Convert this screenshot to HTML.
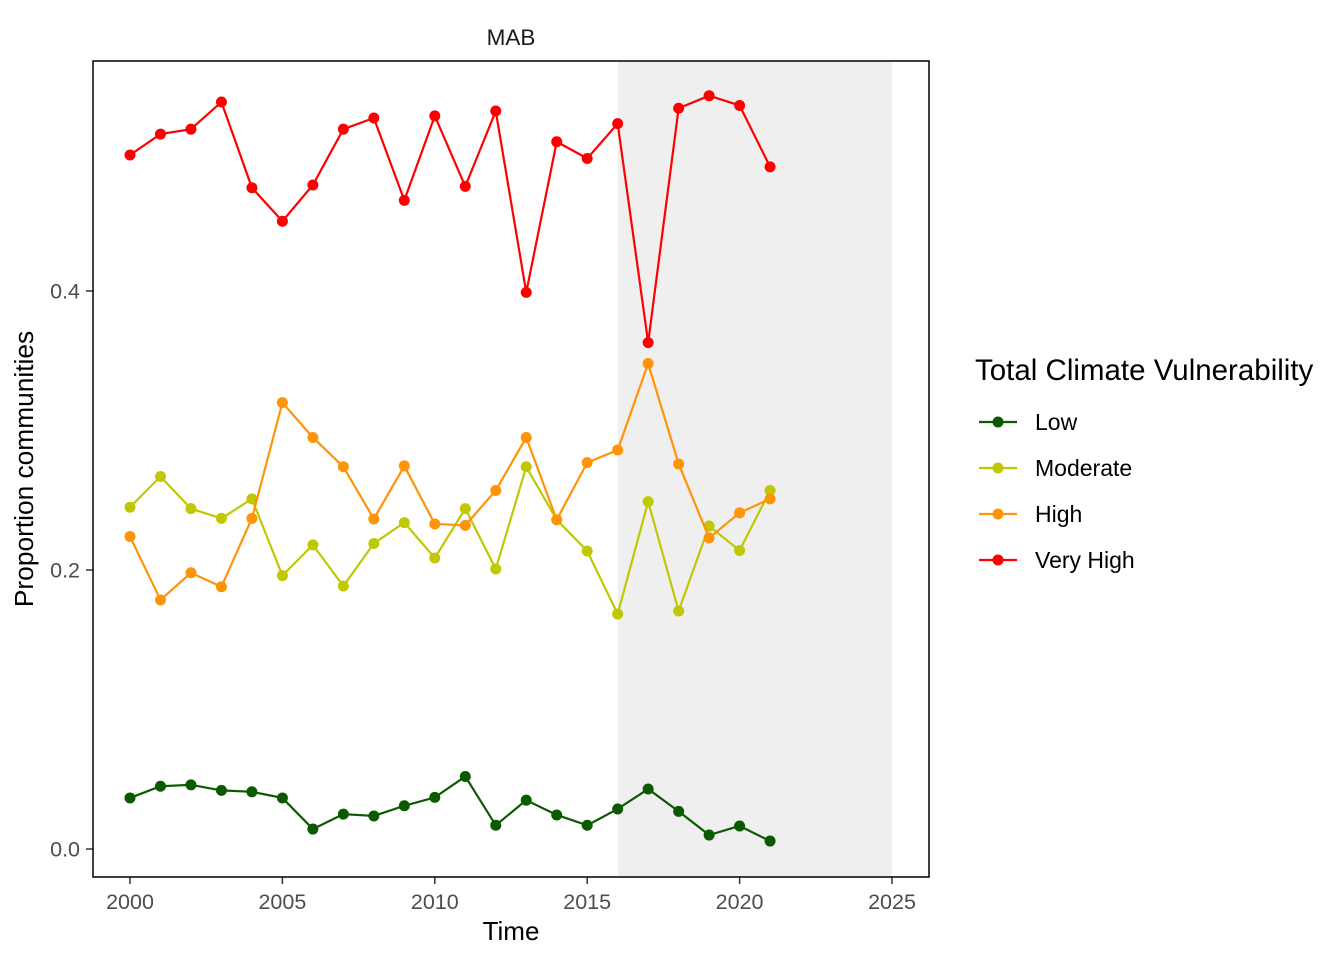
<!DOCTYPE html>
<html><head><meta charset="utf-8"><style>
body{margin:0;background:#fff;}
svg{display:block;font-family:"Liberation Sans",Arial,sans-serif;}
</style></head><body>
<svg id="chart" width="1344" height="960">
<text x="511" y="45" font-size="22.5" text-anchor="middle" fill="#1a1a1a">MAB</text>
<g id="plot"></g>
<rect x="93" y="61" width="836" height="816" fill="none" stroke="#000" stroke-width="1.5"/>
<text x="511" y="940" font-size="26" text-anchor="middle" fill="#000">Time</text>
<text transform="translate(33,469) rotate(-90)" font-size="26.3" text-anchor="middle" fill="#000">Proportion communities</text>
<text x="975" y="380" font-size="29.5" fill="#000">Total Climate Vulnerability</text>
<g id="legend"></g>
</svg>
<script>
const years=[2000,2001,2002,2003,2004,2005,2006,2007,2008,2009,2010,2011,2012,2013,2014,2015,2016,2017,2018,2019,2020,2021];
const seriesNames=["Low","Moderate","High","Very High"];
const seriesColors=["#0b5a00","#bfc800","#ff9408","#ff0000"];
const lowVals=[0.0366,0.045,0.046,0.042,0.041,0.0366,0.0143,0.025,0.0237,0.031,0.037,0.052,0.017,0.035,0.0244,0.017,0.0287,0.043,0.027,0.010,0.0165,0.0057];
const moderateVals=[0.245,0.267,0.244,0.237,0.251,0.196,0.218,0.1885,0.219,0.234,0.2086,0.244,0.2007,0.274,0.236,0.2136,0.1685,0.249,0.1706,0.2315,0.214,0.257];
const highVals=[0.224,0.1785,0.198,0.188,0.237,0.320,0.295,0.274,0.2366,0.2746,0.233,0.232,0.257,0.295,0.236,0.277,0.286,0.348,0.276,0.223,0.241,0.251];
const veryHighVals=[0.4975,0.5125,0.516,0.5355,0.474,0.450,0.476,0.516,0.524,0.465,0.5255,0.475,0.529,0.399,0.507,0.495,0.520,0.363,0.531,0.540,0.533,0.489];
const xTicks=[2000,2005,2010,2015,2020,2025];
const yTicks=[0.0,0.2,0.4];
const yTickLabels=["0.0","0.2","0.4"];
const shadeRange=[2016,2025];

const NS="http://www.w3.org/2000/svg";
const xS=v=>130+(v-2000)*(892-130)/25;
const yS=v=>849-v*(849-291)/0.4;
const plot=document.getElementById('plot');
function mk(t,a,p){const e=document.createElementNS(NS,t);for(const k in a)e.setAttribute(k,a[k]);(p||plot).appendChild(e);return e;}
const sh=mk('rect',{x:xS(shadeRange[0]),y:61,width:xS(shadeRange[1])-xS(shadeRange[0]),height:816,fill:'#efefef'});


xTicks.forEach(t=>{
  const l=mk('line',{x1:xS(t),x2:xS(t),y1:877,y2:884,stroke:'#333','stroke-width':1.5});
  
  
  const tx=mk('text',{x:xS(t),y:909,'font-size':21.5,'text-anchor':'middle',fill:'#4d4d4d'});tx.textContent=t;
  
  
});
yTicks.forEach((t,i)=>{
  const l=mk('line',{x1:86,x2:93,y1:yS(t),y2:yS(t),stroke:'#333','stroke-width':1.5});
  
  
  const tx=mk('text',{x:80,y:yS(t)+7.5,'font-size':21.5,'text-anchor':'end',fill:'#4d4d4d'});tx.textContent=yTickLabels[i];
  
  
});
const allVals=[lowVals,moderateVals,highVals,veryHighVals];
allVals.forEach((vals,s)=>{
  const g=mk('g',{});
  
  
  const pl=mk('polyline',{points:vals.map((v,i)=>xS(years[i])+','+yS(v)).join(' '),fill:'none',stroke:seriesColors[s],'stroke-width':2.2},g);
  
  
  vals.forEach((v,i)=>{
    const c=mk('circle',{cx:xS(years[i]),cy:yS(v),r:5.5,fill:seriesColors[s]},g);
    
    
  });
});
const lg=document.getElementById('legend');
seriesNames.forEach((n,i)=>{
  const y=422+i*46;
  const g=mk('g',{},lg);
  
  
  mk('line',{x1:979,x2:1017,y1:y,y2:y,stroke:seriesColors[i],'stroke-width':2.2},g);
  mk('circle',{cx:998,cy:y,r:5.5,fill:seriesColors[i]},g);
  const t=mk('text',{x:1035,y:y+8,'font-size':23,fill:'#000'},g);t.textContent=n;
});
</script>
</body></html>
